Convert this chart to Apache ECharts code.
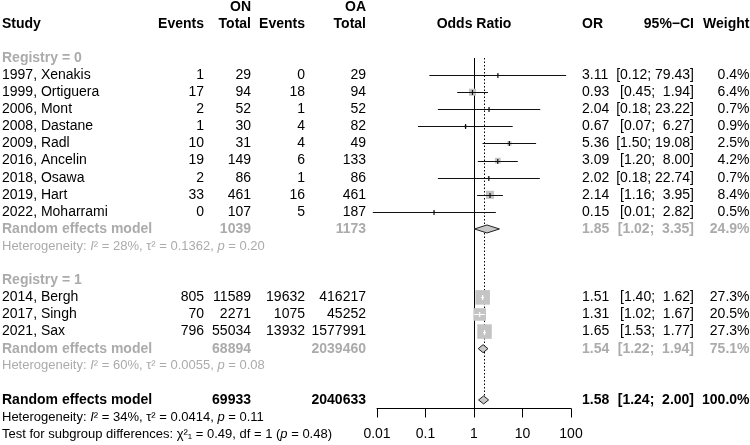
<!DOCTYPE html>
<html><head><meta charset="utf-8">
<script src="https://cdn.jsdelivr.net/npm/echarts@6/dist/echarts.min.js"></script>
<style>html,body{margin:0;padding:0;background:#fff}#c{width:750px;height:445px}</style>
</head><body><div id="c"></div>
<script>
// ---------- data ----------
const studies = ["1997, Xenakis","1999, Ortiguera","2006, Mont","2008, Dastane","2009, Radl","2016, Ancelin","2018, Osawa","2019, Hart","2022, Moharrami","2014, Bergh","2017, Singh","2021, Sax"];
const registry = [0,0,0,0,0,0,0,0,0,1,1,1];
const eventsON = [1,17,2,1,10,19,2,33,0,805,70,796];
const totalON = [29,94,52,30,31,149,86,461,107,11589,2271,55034];
const eventsOA = [0,18,1,4,4,6,1,16,5,19632,1075,13932];
const totalOA = [29,94,52,82,49,133,86,461,187,416217,45252,1577991];
const oddsRatio = [3.11,0.93,2.04,0.67,5.36,3.09,2.02,2.14,0.15,1.51,1.31,1.65];
const ciLower = [0.12,0.45,0.18,0.07,1.50,1.20,0.18,1.16,0.0082,1.40,1.02,1.53];
const ciUpper = [79.43,1.94,23.22,6.27,19.08,8.00,22.74,3.95,2.82,1.62,1.67,1.77];
const weights = [0.4,6.4,0.7,0.9,2.5,4.2,0.7,8.4,0.5,27.3,20.5,27.3];

const groupLabels = ["Registry = 0","Registry = 1"];
const groupTotalON = [1039,68894];
const groupTotalOA = [1173,2039460];
const groupOR = [1.85,1.54];
const groupLower = [1.02,1.22];
const groupUpper = [3.35,1.94];
const groupWeight = [24.9,75.1];
const groupI2 = [28,60];
const groupTau2 = ["0.1362","0.0055"];
const groupP = ["0.20","0.08"];

const overallTotals = [69933,2040633];
const overallEst = [1.58,1.24,2.00];
const overallWeight = [100.0];
const overallHet = ["34","0.0414","0.11"];
const subgroupTest = ["0.49","1","0.48"];

const tickLabels = ["0.01","0.1","1","10","100"];

// ---------- layout ----------
const FONT = "'Liberation Sans', Arial, Helvetica, sans-serif";
const GRAY = "#ababab";
const COLX = {study:2, evON:204, totON:251, evOA:305, totOA:366, plot:474, or:582, ci:694, w:749.5};
const COLALIGN = {study:'left', evON:'right', totON:'right', evOA:'right', totOA:'right', plot:'center', or:'left', ci:'right', w:'right'};

function fmtCI(lo, hi){ return '[' + lo.toFixed(2) + '; ' + hi.toFixed(2).padStart(5, ' ') + ']'; }

const cells = [];
function add(row, col, text, opt){
  cells.push(Object.assign({row:row, x:COLX[col], align:COLALIGN[col], text:String(text), color:'#000', bold:false, size:14, rich:false}, opt||{}));
}
const B = {bold:true};
add(-4,'totON','ON',B); add(-4,'totOA','OA',B);
add(-3,'study','Study',B); add(-3,'evON','Events',B); add(-3,'totON','Total',B);
add(-3,'evOA','Events',B); add(-3,'totOA','Total',B); add(-3,'plot','Odds Ratio',B);
add(-3,'or','OR',B); add(-3,'ci','95%\u2212CI',B); add(-3,'w','Weight',B);

const studyRow = [];
const diamonds = [];
let r = -1;
for (let g = 0; g < groupLabels.length; g++){
  add(r,'study',groupLabels[g],{bold:true,color:GRAY}); r++;
  for (let i = 0; i < studies.length; i++){
    if (registry[i] !== g) continue;
    studyRow[i] = r;
    add(r,'study',studies[i]); add(r,'evON',eventsON[i]); add(r,'totON',totalON[i]);
    add(r,'evOA',eventsOA[i]); add(r,'totOA',totalOA[i]);
    add(r,'or',oddsRatio[i].toFixed(2)); add(r,'ci',fmtCI(ciLower[i],ciUpper[i]));
    add(r,'w',weights[i].toFixed(1)+'%');
    r++;
  }
  const G = {bold:true,color:GRAY};
  add(r,'study','Random effects model',G); add(r,'totON',groupTotalON[g],G); add(r,'totOA',groupTotalOA[g],G);
  add(r,'or',groupOR[g].toFixed(2),G); add(r,'ci',fmtCI(groupLower[g],groupUpper[g]),G); add(r,'w',groupWeight[g].toFixed(1)+'%',G);
  diamonds.push([groupOR[g], groupLower[g], groupUpper[g], r]);
  r++;
  add(r,'study','Heterogeneity: {it|I}\u00B2 = '+groupI2[g]+'%, \u03C4\u00B2 = '+groupTau2[g]+', {it|p} = '+groupP[g],{color:GRAY,size:13,rich:true});
  r += 2;
}
const overallRow = r;
add(r,'study','Random effects model',B); add(r,'totON',overallTotals[0],B); add(r,'totOA',overallTotals[1],B);
add(r,'or',overallEst[0].toFixed(2),B); add(r,'ci',fmtCI(overallEst[1],overallEst[2]),B); add(r,'w',overallWeight[0].toFixed(1)+'%',B);
diamonds.push([overallEst[0], overallEst[1], overallEst[2], r]);
add(r+1,'study','Heterogeneity: {it|I}\u00B2 = '+overallHet[0]+'%, \u03C4\u00B2 = '+overallHet[1]+', {it|p} = '+overallHet[2],{size:13,rich:true});
add(r+2,'study','Test for subgroup differences: \u03C7\u00B2\u2081 = '+subgroupTest[0]+', df = '+subgroupTest[1]+' ({it|p} = '+subgroupTest[2]+')',{size:13,rich:true});

const studyData = studies.map((s,i)=>[oddsRatio[i], ciLower[i], ciUpper[i], studyRow[i], weights[i]]);
const maxW = Math.max.apply(null, weights);
const MAXSIDE = 14.5;

const refLines = [[1, -1, overallRow + 0.5, 0], [overallEst[0], -1, overallRow, 1]];

const chart = echarts.init(document.getElementById('c'), null, {renderer:'canvas'});
chart.setOption({
  animation:false,
  backgroundColor:'#fff',
  grid:{left:377, right:179, top:58, bottom:36.5, containLabel:false, outerBoundsMode:'none'},
  xAxis:{type:'log', logBase:10, min:0.01, max:100, position:'bottom',
    axisLine:{show:true, onZero:false, lineStyle:{color:'#000', width:1}},
    axisTick:{show:true, length:9, lineStyle:{color:'#000', width:1}},
    minorTick:{show:false}, splitLine:{show:false},
    axisLabel:{fontSize:14, color:'#000', fontFamily:FONT, margin:19,
      formatter:function(v){ return tickLabels[Math.round(Math.log10(v))+2]; }}},
  yAxis:{type:'value', inverse:true, min:-1, max:overallRow+0.5, show:false},
  series:[
    { type:'custom', clip:false, silent:true, z:1,
      data:refLines,
      encode:{x:0, y:[1,2]},
      renderItem:function(params, api){
        const p1 = api.coord([api.value(0), api.value(1)]);
        const p2 = api.coord([api.value(0), api.value(2)]);
        const dotted = api.value(3) === 1;
        return {type:'line', shape:{x1:Math.round(p1[0])+0.5, y1:p1[1], x2:Math.round(p1[0])+0.5, y2:p2[1]},
          style:{stroke:'#000', lineWidth:1, lineDash: dotted ? [1.5,2] : null}};
      }},
    { type:'custom', clip:false, silent:true, z:2,
      data:studyData,
      encode:{x:[0,1,2], y:3},
      renderItem:function(params, api){
        const est=api.value(0), lo=api.value(1), hi=api.value(2), row=api.value(3), w=api.value(4);
        const pe=api.coord([est,row]), pl=api.coord([lo,row]), ph=api.coord([hi,row]);
        const side = MAXSIDE*Math.sqrt(w/maxW), half = side/2;
        const inside = pl[0] >= pe[0]-half && ph[0] <= pe[0]+half;
        const col = inside ? '#fff' : '#111';
        const y = Math.round(pe[1]) + 0.5;
        return {type:'group', children:[
          {type:'rect', shape:{x:pe[0]-half, y:pe[1]-half, width:side, height:side}, style:{fill:'#c4c4c4'}},
          {type:'line', shape:{x1:pl[0], y1:y, x2:ph[0], y2:y}, style:{stroke:col, lineWidth:1}},
          {type:'line', shape:{x1:pe[0], y1:y-2.5, x2:pe[0], y2:y+2.5}, style:{stroke:col, lineWidth:1.2}}
        ]};
      }},
    { type:'custom', clip:false, silent:true, z:3,
      data:diamonds,
      encode:{x:[0,1,2], y:3},
      renderItem:function(params, api){
        const row=api.value(3);
        const pe=api.coord([api.value(0),row]), pl=api.coord([api.value(1),row]), ph=api.coord([api.value(2),row]);
        const h=4;
        return {type:'polygon', shape:{points:[[pl[0],pe[1]],[pe[0],pe[1]-h],[ph[0],pe[1]],[pe[0],pe[1]+h]]},
          style:{fill:'#c8c8c8', stroke:'#222', lineWidth:1}};
      }},
    { type:'custom', clip:false, silent:true, z:4,
      data:cells.map(c=>[1, c.row]),
      encode:{x:0, y:1},
      renderItem:function(params, api){
        const c = cells[params.dataIndex];
        const y = api.coord([1, c.row])[1];
        const style = {text:c.text, fill:c.color, fontFamily:FONT, fontSize:c.size,
          fontWeight:c.bold?'bold':'normal', align:c.align, verticalAlign:'middle'};
        if (c.rich) style.rich = {it:{fontStyle:'italic', fontSize:c.size, fill:c.color, fontFamily:FONT}};
        return {type:'text', x:c.x, y:y, style:style};
      }}
  ]
});
</script></body></html>
